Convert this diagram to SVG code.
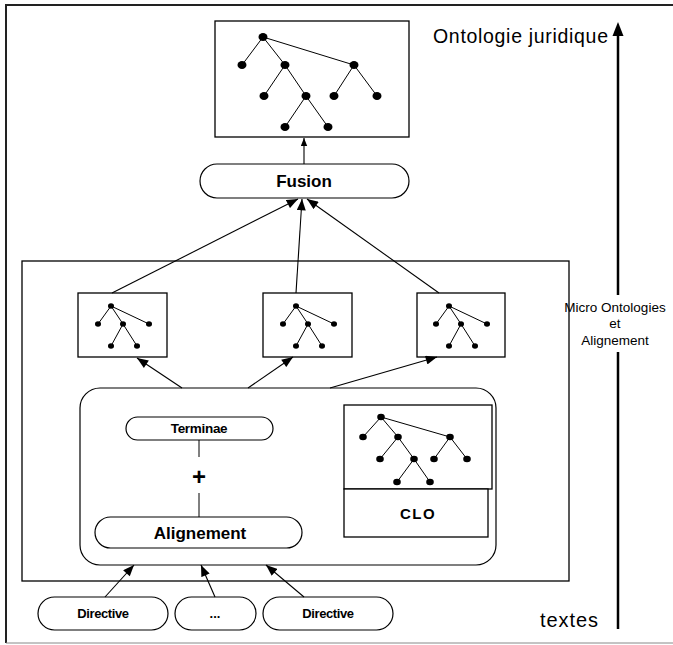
<svg xmlns="http://www.w3.org/2000/svg" xmlns:xlink="http://www.w3.org/1999/xlink" width="673" height="645" viewBox="0 0 673 645">
<style>
.box{fill:#fff;stroke:#000;stroke-width:1.3}
.pill{fill:#fff;stroke:#000;stroke-width:1.2}
.edge{stroke:#000;stroke-width:1;fill:none}
.conn{stroke:#000;stroke-width:1.1;fill:none}
.dot{fill:#000}
.lb{font-family:"Liberation Sans",Arial,sans-serif;font-weight:bold;text-anchor:middle;fill:#000}
.lr{font-family:"Liberation Sans",Arial,sans-serif;text-anchor:middle;fill:#000}
</style>
<defs>
<marker id="ah" viewBox="0 0 10 8" refX="10" refY="4" markerWidth="12" markerHeight="9" markerUnits="userSpaceOnUse" orient="auto">
<path d="M0,0 L10,4 L0,8 Z" fill="#000"/>
</marker>
<marker id="ahs" viewBox="0 0 10 8" refX="10" refY="4" markerWidth="8" markerHeight="7" markerUnits="userSpaceOnUse" orient="auto">
<path d="M0,0 L10,4 L0,8 Z" fill="#000"/>
</marker>
<g id="smalltree">
<path class="edge" d="M33,13 L20,31 M33,13 L45,31 M33,13 L71,31 M45,31 L33,53 M45,31 L59,53"/>
<ellipse class="dot" cx="33" cy="13" rx="3" ry="2.7"/>
<ellipse class="dot" cx="20" cy="31" rx="3" ry="2.7"/>
<ellipse class="dot" cx="45" cy="31" rx="3" ry="2.7"/>
<ellipse class="dot" cx="71" cy="31" rx="3" ry="2.7"/>
<ellipse class="dot" cx="33" cy="53" rx="3" ry="2.7"/>
<ellipse class="dot" cx="59" cy="53" rx="3" ry="2.7"/>
</g>
</defs>
<rect width="673" height="645" fill="#fff"/>
<g id="frame">
<path d="M6,643 L6,5 L673,5" fill="none" stroke="#222" stroke-width="2"/>
<path d="M6,643 L673,643" fill="none" stroke="#888" stroke-width="1"/>
</g>
<g id="ontologie-juridique">
<rect class="box" x="215" y="21" width="194" height="116"/>
<path class="edge" d="M263,37 L242,65 M263,37 L285,65 M263,37 L354,65 M285,65 L264,96 M285,65 L306,96 M354,65 L334,96 M354,65 L377,96 M306,96 L285,127 M306,96 L328,127"/>
<ellipse class="dot" cx="263" cy="37" rx="4.5" ry="4"/>
<ellipse class="dot" cx="242" cy="65" rx="4.5" ry="4"/>
<ellipse class="dot" cx="285" cy="65" rx="4.5" ry="4"/>
<ellipse class="dot" cx="354" cy="65" rx="4.5" ry="4"/>
<ellipse class="dot" cx="264" cy="96" rx="4.5" ry="4"/>
<ellipse class="dot" cx="306" cy="96" rx="4.5" ry="4"/>
<ellipse class="dot" cx="334" cy="96" rx="4.5" ry="4"/>
<ellipse class="dot" cx="377" cy="96" rx="4.5" ry="4"/>
<ellipse class="dot" cx="285" cy="127" rx="4.5" ry="4"/>
<ellipse class="dot" cx="328" cy="127" rx="4.5" ry="4"/>
</g>
<g id="fusion">
<rect class="pill" x="200" y="164" width="209" height="34" rx="17" ry="17"/>
<text class="lb" x="304" y="187" font-size="17">Fusion</text>
</g>
<g id="micro-zone">
<rect class="box" x="22" y="261" width="547" height="320"/>
</g>
<g id="micro1">
<rect class="box" x="78" y="293" width="89" height="64"/>
<use xlink:href="#smalltree" x="78" y="293"/>
</g>
<g id="micro2">
<rect class="box" x="263" y="293" width="89" height="64"/>
<use xlink:href="#smalltree" x="263" y="293"/>
</g>
<g id="micro3">
<rect class="box" x="417" y="293" width="88" height="64"/>
<use xlink:href="#smalltree" x="416" y="293"/>
</g>
<g id="alignement-zone">
<rect class="pill" x="80" y="388" width="416" height="177" rx="20" ry="20"/>
</g>
<g id="terminae">
<rect class="pill" x="126" y="417" width="147" height="23" rx="11.5" ry="11.5"/>
<text class="lb" x="199" y="433" font-size="13.5" letter-spacing="-0.3">Terminae</text>
</g>
<g id="plus">
<path class="edge" d="M199,440 L199,457 M199,493 L199,517"/>
<text class="lb" x="199" y="485" font-size="24">+</text>
</g>
<g id="alignement">
<rect class="pill" x="95" y="517" width="207" height="31" rx="15.5" ry="15.5"/>
<text class="lb" x="200" y="539" font-size="17">Alignement</text>
</g>
<g id="clo">
<rect class="box" x="344" y="405" width="148" height="84"/>
<rect class="box" x="344" y="489" width="144" height="48"/>
<path class="edge" d="M381,417 L363,437 M381,417 L398,437 M381,417 L450,437 M398,437 L380,459 M398,437 L414,459 M450,437 L434,459 M450,437 L467,459 M414,459 L397,482 M414,459 L430,482"/>
<ellipse class="dot" cx="381" cy="417" rx="3.8" ry="3.3"/>
<ellipse class="dot" cx="363" cy="437" rx="3.8" ry="3.3"/>
<ellipse class="dot" cx="398" cy="437" rx="3.8" ry="3.3"/>
<ellipse class="dot" cx="450" cy="437" rx="3.8" ry="3.3"/>
<ellipse class="dot" cx="380" cy="459" rx="3.8" ry="3.3"/>
<ellipse class="dot" cx="414" cy="459" rx="3.8" ry="3.3"/>
<ellipse class="dot" cx="434" cy="459" rx="3.8" ry="3.3"/>
<ellipse class="dot" cx="467" cy="459" rx="3.8" ry="3.3"/>
<ellipse class="dot" cx="397" cy="482" rx="3.8" ry="3.3"/>
<ellipse class="dot" cx="430" cy="482" rx="3.8" ry="3.3"/>
<text class="lb" x="418" y="519" font-size="15" letter-spacing="1.5">CLO</text>
</g>
<g id="directive1">
<rect class="pill" x="38" y="597" width="130" height="33" rx="16.5" ry="16.5"/>
<text class="lb" x="103" y="618" font-size="13" letter-spacing="-0.4">Directive</text>
</g>
<g id="etc">
<rect class="pill" x="175" y="597" width="81" height="33" rx="16.5" ry="16.5"/>
<text class="lb" x="215" y="618" font-size="13">...</text>
</g>
<g id="directive2">
<rect class="pill" x="263" y="597" width="130" height="33" rx="16.5" ry="16.5"/>
<text class="lb" x="328" y="618" font-size="13" letter-spacing="-0.4">Directive</text>
</g>
<g id="axis">
<path d="M618,629 L618,352 M618,295 L618,34" stroke="#000" stroke-width="2.5" fill="none"/>
<path d="M618,22 L612.5,36 L623.5,36 Z" fill="#000"/>
<text class="lr" x="433" y="43" font-size="19.5" textLength="175" lengthAdjust="spacing" style="text-anchor:start">Ontologie juridique</text>
<text class="lr" x="615" y="312" font-size="13.5">Micro Ontologies</text>
<text class="lr" x="615" y="328" font-size="13.5">et</text>
<text class="lr" x="615" y="345" font-size="13.5">Alignement</text>
<text class="lr" x="540" y="627" font-size="20" textLength="58" lengthAdjust="spacing" style="text-anchor:start">textes</text>
</g>
<g id="connectors">
<line class="conn" x1="304" y1="164" x2="304" y2="138" marker-end="url(#ahs)"/>
<line class="conn" x1="112" y1="293" x2="298" y2="199" marker-end="url(#ah)"/>
<line class="conn" x1="296" y1="293" x2="302" y2="199" marker-end="url(#ah)"/>
<line class="conn" x1="439" y1="293" x2="307" y2="199" marker-end="url(#ah)"/>
<line class="conn" x1="182" y1="388" x2="137" y2="358" marker-end="url(#ah)"/>
<line class="conn" x1="248" y1="388" x2="293" y2="357" marker-end="url(#ah)"/>
<line class="conn" x1="330" y1="388" x2="437" y2="357" marker-end="url(#ah)"/>
<line class="conn" x1="105" y1="597" x2="134" y2="565" marker-end="url(#ah)"/>
<line class="conn" x1="215" y1="597" x2="201" y2="565" marker-end="url(#ah)"/>
<line class="conn" x1="304" y1="597" x2="266" y2="565" marker-end="url(#ah)"/>
</g>
</svg>
